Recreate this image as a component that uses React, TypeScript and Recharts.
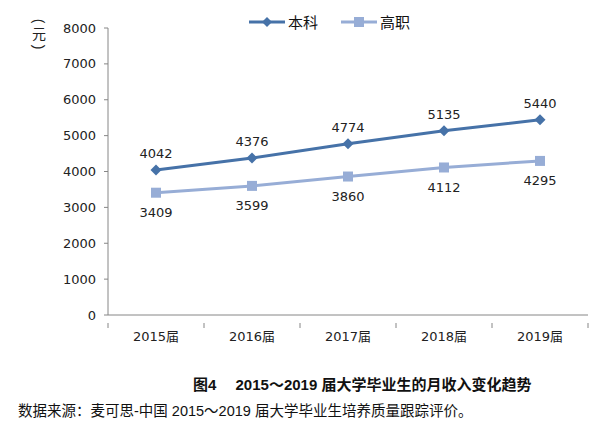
import React from 'react';
import { LineChart, Line, XAxis, YAxis, Legend, LabelList } from 'recharts';

const years = ['2015届', '2016届', '2017届', '2018届', '2019届'];
const benke = [4042, 4376, 4774, 5135, 5440];
const gaozhi = [3409, 3599, 3860, 4112, 4295];
const yTicks = [0, 1000, 2000, 3000, 4000, 5000, 6000, 7000, 8000];

const data = years.map((year, i) => ({ year, 本科: benke[i], 高职: gaozhi[i] }));

const DARK = '#4672a8';
const LIGHT = '#97add6';
const AXIS = '#868686';
const FONT = '"DejaVu Sans", "Noto Sans CJK SC", sans-serif';
const CJK = '"Liberation Sans", "Noto Sans CJK SC", sans-serif';

const Diamond = (props: any) => {
  const { cx, cy } = props;
  if (cx == null || cy == null) return null;
  return <path d={`M${cx},${cy - 5.5}L${cx + 5.5},${cy}L${cx},${cy + 5.5}L${cx - 5.5},${cy}Z`} fill={DARK} />;
};

const Square = (props: any) => {
  const { cx, cy } = props;
  if (cx == null || cy == null) return null;
  return <rect x={cx - 5} y={cy - 5} width={10} height={10} fill={LIGHT} />;
};

const XTick = (props: any) => {
  const { x, y, payload, index } = props;
  const half = 48;
  return (
    <g>
      {index === 0 && <line x1={x - half} y1={y} x2={x - half} y2={y + 5} stroke={AXIS} />}
      <line x1={x + half} y1={y} x2={x + half} y2={y + 5} stroke={AXIS} />
      <text x={x} y={y + 18} textAnchor="middle" fill="#222" fontSize={13} fontFamily={FONT}>
        {payload.value}
      </text>
    </g>
  );
};

const LegendContent = () => (
  <div style={{ display: 'flex', justifyContent: 'center', gap: 22, fontFamily: CJK, fontSize: 15, color: '#111', marginLeft: 22 }}>
    <span style={{ display: 'flex', alignItems: 'center' }}>
      <svg width={40} height={12}>
        <line x1={1} y1={6} x2={37} y2={6} stroke={DARK} strokeWidth={3} />
        <path d="M19,1L24,6L19,11L14,6Z" fill={DARK} />
      </svg>
      本科
    </span>
    <span style={{ display: 'flex', alignItems: 'center' }}>
      <svg width={40} height={12}>
        <line x1={1} y1={6} x2={37} y2={6} stroke={LIGHT} strokeWidth={3} />
        <rect x={14} y={1} width={10} height={10} fill={LIGHT} />
      </svg>
      高职
    </span>
  </div>
);

const paren: React.CSSProperties = { transform: 'rotate(90deg)', lineHeight: '10px', height: 10 };

export default function App() {
  return (
    <div style={{ position: 'relative', width: 602, height: 427, margin: -8, background: '#fff', fontFamily: FONT }}>
      <div
        style={{
          position: 'absolute',
          left: 32,
          top: 16,
          display: 'flex',
          flexDirection: 'column',
          alignItems: 'center',
          fontSize: 14,
          color: '#222',
          fontFamily: CJK,
        }}
      >
        <span style={paren}>(</span>
        <span style={{ lineHeight: '16px' }}>元</span>
        <span style={paren}>)</span>
      </div>
      <LineChart width={602} height={360} data={data} margin={{ top: 7, right: 14, left: 48, bottom: 15 }}>
        <Legend verticalAlign="top" wrapperStyle={{ top: 11 }} content={<LegendContent />} />
        <XAxis
          dataKey="year"
          stroke={AXIS}
          tickLine={false}
          tick={<XTick />}
          height={30}
          interval={0}
          padding={{ left: 48, right: 48 }}
        />
        <YAxis
          domain={[0, 8000]}
          ticks={yTicks}
          stroke={AXIS}
          width={60}
          tickSize={4}
          tickMargin={8}
          tick={{ fill: '#222', fontSize: 13, fontFamily: FONT }}
        />
        <Line
          dataKey="本科"
          stroke={DARK}
          strokeWidth={3}
          dot={<Diamond />}
          activeDot={false}
          isAnimationActive={false}
        >
          <LabelList dataKey="本科" position="top" offset={12} fill="#222" fontSize={13} fontFamily={FONT} />
        </Line>
        <Line
          dataKey="高职"
          stroke={LIGHT}
          strokeWidth={3}
          dot={<Square />}
          activeDot={false}
          isAnimationActive={false}
        >
          <LabelList dataKey="高职" position="bottom" offset={15} fill="#222" fontSize={13} fontFamily={FONT} />
        </Line>
      </LineChart>
      <div
        style={{
          position: 'absolute',
          left: 193,
          top: 373,
          fontSize: 15,
          fontWeight: 'bold',
          color: '#111',
          fontFamily: CJK,
          whiteSpace: 'nowrap',
        }}
      >
        图4　 2015～2019 届大学毕业生的月收入变化趋势
      </div>
      <div
        style={{
          position: 'absolute',
          left: 18,
          top: 399,
          fontSize: 14.5,
          color: '#111',
          fontFamily: CJK,
          whiteSpace: 'nowrap',
        }}
      >
        数据来源：麦可思-中国 2015～2019 届大学毕业生培养质量跟踪评价。
      </div>
    </div>
  );
}
